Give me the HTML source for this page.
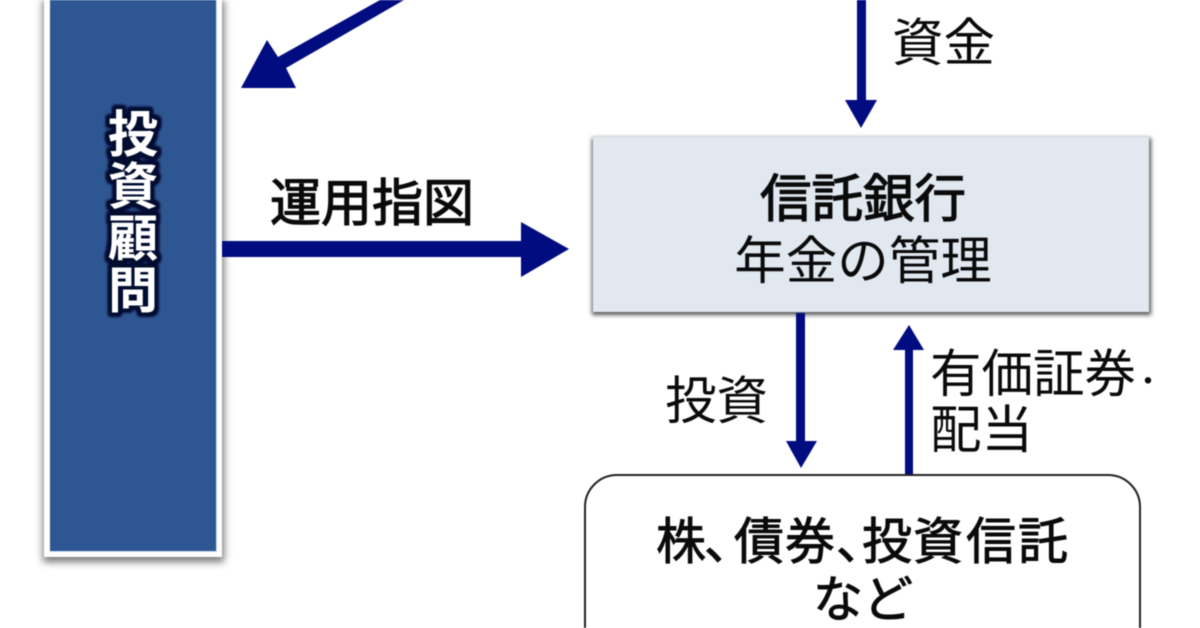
<!DOCTYPE html>
<html lang="ja">
<head>
<meta charset="utf-8">
<title>投資顧問と信託銀行</title>
<style>
html,body{margin:0;padding:0;background:#fff;width:1200px;height:628px;overflow:hidden}
svg{display:block;filter:blur(.45px)}
text{font-family:"Liberation Sans","Noto Sans CJK JP",sans-serif;fill:#0a0a0a;font-size:51.5px}
.m{stroke:#0a0a0a;stroke-width:1.2px}
.l{stroke:none}
.g{fill:#fff;font-weight:700;font-size:50px;text-anchor:middle}
</style>
</head>
<body>
<svg width="1200" height="628" viewBox="0 0 1200 628" xmlns="http://www.w3.org/2000/svg">
<defs>
<filter id="s1" x="-30%" y="-10%" width="160%" height="120%"><feGaussianBlur stdDeviation="4"/></filter>
<filter id="s2" x="-10%" y="-10%" width="120%" height="125%"><feGaussianBlur stdDeviation="2.2"/></filter>
<filter id="glow" x="-30%" y="-30%" width="160%" height="160%">
<feMorphology in="SourceAlpha" operator="dilate" radius="2.8" result="d"/>
<feGaussianBlur in="d" stdDeviation="1.5" result="b"/>
<feFlood flood-color="#000a30"/>
<feComposite in2="b" operator="in" result="c"/>
<feMerge><feMergeNode in="c"/><feMergeNode in="c"/><feMergeNode in="c"/><feMergeNode in="SourceGraphic"/></feMerge>
</filter>
</defs>
<rect width="1200" height="628" fill="#fff"/>

<!-- 投資顧問 -->
<path d="M43 0H224V562H43Z" fill="#777" filter="url(#s1)"/>
<rect x="44" y="0" width="178" height="557" fill="#fdfdfd"/>
<rect x="50" y="0" width="167" height="552" fill="#cfe0f2"/>
<rect x="50" y="0" width="166" height="551" fill="#2e5693"/>
<g filter="url(#glow)">
<text class="g" x="133" y="152">投</text>
<text class="g" x="133" y="204">資</text>
<text class="g" x="133" y="256">顧</text>
<text class="g" x="133" y="308">問</text>
</g>

<!-- diagonal arrow -->
<polygon points="380,0 404,0 286,68 296,88 241,88 267,40 278,57" fill="#000c80"/>

<!-- 運用指図 arrow -->
<text class="m" x="270" y="221" style="font-size:51px">運用指図</text>
<polygon points="222,241 521,241 521,222 569,249 521,277 521,257 222,257" fill="#000c80"/>

<!-- 資金 arrow -->
<polygon points="857,0 866,0 866,100 877,100 861,128 845,100 857,100" fill="#000c80"/>
<text class="l" x="892" y="61">資金</text>

<!-- 信託銀行 -->
<rect x="592" y="138" width="559" height="177" fill="#555" filter="url(#s2)"/>
<rect x="593" y="137" width="556" height="175" fill="#e1e8f0"/>
<text class="m" x="863" y="217" text-anchor="middle" style="font-size:51.5px">信託銀行</text>
<text class="l" x="863" y="279" text-anchor="middle" style="font-size:51.5px">年金の管理</text>

<!-- 投資 arrow -->
<polygon points="796,313 805,313 805,441 817,441 801,468 786,441 796,441" fill="#000c80"/>
<text class="l" x="665" y="419">投資</text>

<!-- 有価証券 arrow -->
<polygon points="905,474 913,474 913,350 924,350 909,325 893,350 905,350" fill="#000c80"/>
<text class="l" x="930" y="392">有価証券</text>
<text x="1133" y="392" style="font-size:30px">・</text>
<text class="l" x="930" y="448">配当</text>

<!-- 株、債券 -->
<path d="M585 628V507A32 32 0 0 1 617 475H1108A32 32 0 0 1 1140 507V628" fill="#fff" stroke="#222" stroke-width="2"/>
<text class="m" x="656 704 734 785 836 862 913 966 1018" y="559" style="stroke-width:.9px;font-size:50px">株、債券、投資信託</text>
<text class="m" x="863" y="617" text-anchor="middle" style="stroke-width:.9px;font-size:50px">など</text>
</svg>
</body>
</html>
